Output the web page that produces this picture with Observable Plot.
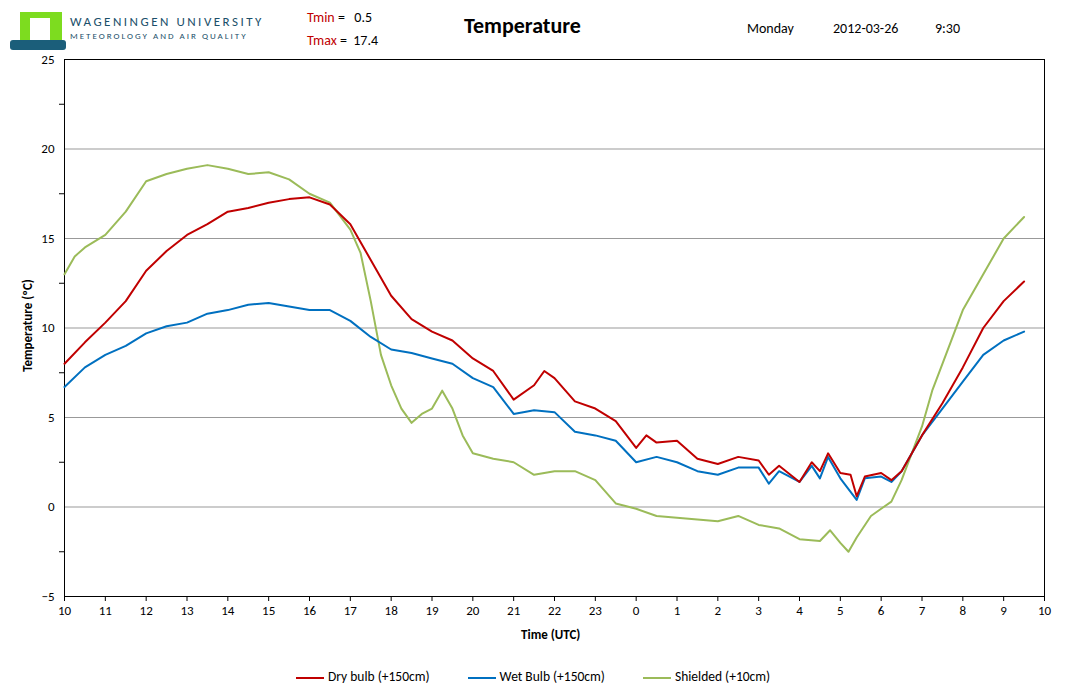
<!DOCTYPE html>
<html><head><meta charset="utf-8">
<script src="https://cdn.jsdelivr.net/npm/d3@7"></script>
<script src="https://cdn.jsdelivr.net/npm/@observablehq/plot@0.6"></script>
<style>
body{margin:0;background:#fff;font-family:Calibri,"Liberation Sans","DejaVu Sans",sans-serif;}
#wrap{position:relative;width:1065px;height:696px;}
.a{position:absolute;white-space:nowrap;}
</style></head><body>
<div id="wrap">
  <div class="a" style="left:10px;top:12px;width:56px;height:36px;">
    <div style="position:absolute;left:10px;top:0;width:42px;height:30px;background:#7ddc1f"></div>
    <div style="position:absolute;left:20px;top:6px;width:20px;height:24px;background:#fff"></div>
    <div style="position:absolute;left:0;top:28px;width:56px;height:10px;background:#1b5e7a;border-radius:3px"></div>
  </div>
  <div class="a" style="left:70px;top:14px;font-size:13px;letter-spacing:2.5px;color:#1b4f6a">WAGENINGEN UNIVERSITY</div>
  <div class="a" style="left:70px;top:30px;font-size:9px;letter-spacing:2px;color:#1b4f6a">METEOROLOGY AND AIR QUALITY</div>
  <div class="a" style="left:307px;top:9px;font-size:14px;"><span style="color:#c00000">Tmin</span> =&nbsp;&nbsp; 0.5</div>
  <div class="a" style="left:307px;top:32px;font-size:14px;"><span style="color:#c00000">Tmax</span> =&nbsp;&nbsp;17.4</div>
  <div class="a" style="left:464px;top:12px;font-size:22px;font-weight:bold">Temperature</div>
  <div class="a" style="left:747px;top:20px;font-size:14px">Monday</div>
  <div class="a" style="left:833px;top:20px;font-size:14px">2012-03-26</div>
  <div class="a" style="left:935px;top:20px;font-size:14px">9:30</div>
  <div id="chart" class="a" style="left:0;top:0"></div>
  <div class="a" style="left:521px;top:627px;font-size:13px;font-weight:bold">Time (UTC)</div>
  <div class="a" style="left:-28px;top:318px;font-size:13px;font-weight:bold;transform:rotate(-90deg);width:110px;text-align:center">Temperature (ºC)</div>
  <div class="a" style="left:296px;top:668px;font-size:13.5px;display:flex;gap:38px;align-items:center">
    <span><span style="display:inline-block;width:28px;height:2px;background:#c00000;vertical-align:middle;margin-right:4px"></span>Dry bulb (+150cm)</span>
    <span><span style="display:inline-block;width:28px;height:2px;background:#0070c0;vertical-align:middle;margin-right:4px"></span>Wet Bulb (+150cm)</span>
    <span><span style="display:inline-block;width:28px;height:2px;background:#9bbb59;vertical-align:middle;margin-right:4px"></span>Shielded (+10cm)</span>
  </div>
</div>
<script>
const dryTime=[10,10.5,11,11.5,12,12.5,13,13.5,14,14.5,15,15.5,16,16.5,17,17.5,18,18.5,19,19.5,20,20.5,21,21.5,21.75,22,22.5,23,23.5,0,0.25,0.5,1,1.5,2,2.5,3,3.25,3.5,4,4.3,4.5,4.7,5,5.25,5.4,5.6,6,6.25,6.5,7,7.5,8,8.5,9,9.5];
const dryVal=[8.0,9.2,10.3,11.5,13.2,14.3,15.2,15.8,16.5,16.7,17.0,17.2,17.3,16.9,15.8,13.8,11.8,10.5,9.8,9.3,8.3,7.6,6.0,6.8,7.6,7.2,5.9,5.5,4.8,3.3,4.0,3.6,3.7,2.7,2.4,2.8,2.6,1.8,2.3,1.4,2.5,2.0,3.0,1.9,1.8,0.6,1.7,1.9,1.5,2.0,4.0,5.8,7.8,10.0,11.5,12.6];
const wetTime=[10,10.5,11,11.5,12,12.5,13,13.5,14,14.5,15,15.5,16,16.5,17,17.5,18,18.5,19,19.5,20,20.5,21,21.5,22,22.5,23,23.5,0,0.5,1,1.5,2,2.5,3,3.25,3.5,4,4.3,4.5,4.7,5,5.4,5.6,6,6.25,6.5,7,7.5,8,8.5,9,9.5];
const wetVal=[6.7,7.8,8.5,9.0,9.7,10.1,10.3,10.8,11.0,11.3,11.4,11.2,11.0,11.0,10.4,9.5,8.8,8.6,8.3,8.0,7.2,6.7,5.2,5.4,5.3,4.2,4.0,3.7,2.5,2.8,2.5,2.0,1.8,2.2,2.2,1.3,2.0,1.4,2.3,1.6,2.8,1.6,0.4,1.6,1.7,1.4,2.0,4.0,5.5,7.0,8.5,9.3,9.8];
const shTime=[10,10.25,10.5,11,11.5,12,12.5,13,13.5,14,14.5,15,15.5,16,16.5,17,17.25,17.5,17.75,18,18.25,18.5,18.75,19,19.25,19.5,19.75,20,20.5,21,21.5,22,22.5,23,23.5,0,0.5,1,1.5,2,2.5,3,3.5,4,4.5,4.75,5,5.2,5.4,5.75,6,6.25,6.5,7,7.25,7.5,8,8.5,9,9.5];
const shVal=[13.0,14.0,14.5,15.2,16.5,18.2,18.6,18.9,19.1,18.9,18.6,18.7,18.3,17.5,17.0,15.5,14.2,11.5,8.5,6.8,5.5,4.7,5.2,5.5,6.5,5.5,4.0,3.0,2.7,2.5,1.8,2.0,2.0,1.5,0.2,-0.1,-0.5,-0.6,-0.7,-0.8,-0.5,-1.0,-1.2,-1.8,-1.9,-1.3,-2.0,-2.5,-1.7,-0.5,-0.1,0.3,1.5,4.5,6.5,8.0,11.0,13.0,15.0,16.2];
const xTicks=d3.range(0,25);
const yTicks=[-5,0,5,10,15,20,25];
const yMinor=[-2.5,2.5,7.5,12.5,17.5,22.5];
const gridY=[0,5,10,15,20];

const rel=h=>h<10?h+14:h-10;
const mk=(t,v,s)=>t.map((h,i)=>({x:rel(h),y:v[i],s}));
const data=[...mk(shTime,shVal,"sh"),...mk(wetTime,wetVal,"wet"),...mk(dryTime,dryVal,"dry")];
const col={dry:"#c00000",wet:"#0070c0",sh:"#9bbb59"};

const chart=Plot.plot({
  width:1065,height:640,marginTop:59,marginBottom:44,marginLeft:64,marginRight:21,
  style:{fontSize:"13px",fontFamily:"Calibri,'Liberation Sans',sans-serif",background:"transparent"},
  x:{domain:[0,24]},
  y:{domain:[-5,25]},
  marks:[
    Plot.ruleY(gridY,{stroke:"#999",strokeWidth:1}),
    Plot.axisX({ticks:xTicks,tickFormat:d=>String((d+10)%24),tickSize:5,label:null}),
    Plot.axisY({ticks:yTicks,tickSize:0,tickPadding:10,label:null}),
    Plot.axisY({ticks:yMinor,tickSize:5,tickFormat:()=>"",label:null}),
    Plot.frame({stroke:"#000"}),
    Plot.line(data,{x:"x",y:"y",z:"s",stroke:d=>col[d.s],strokeWidth:2})
  ]
});
document.getElementById("chart").appendChild(chart);
</script>
</body></html>
